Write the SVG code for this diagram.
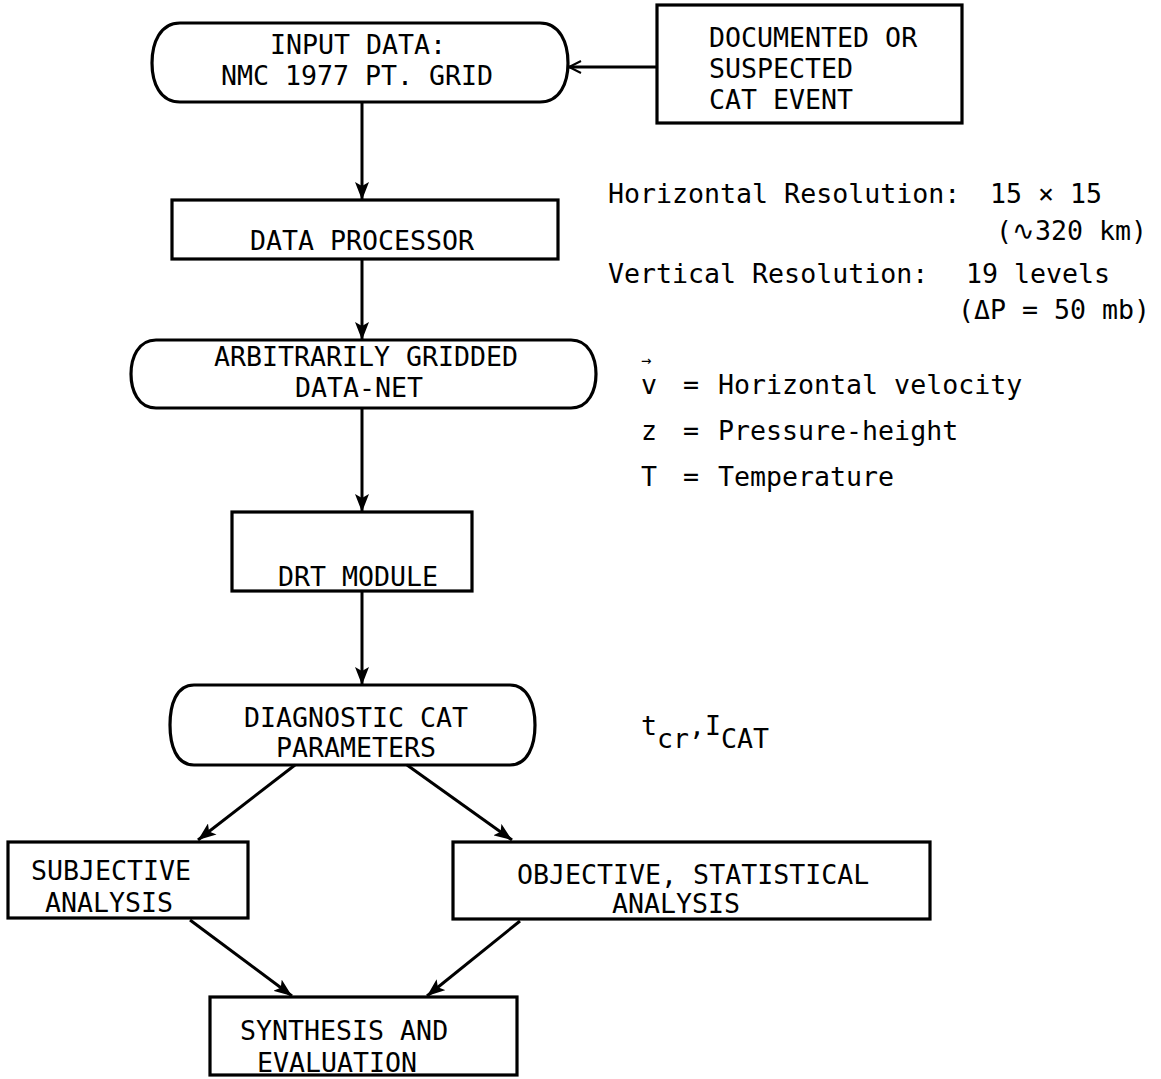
<svg xmlns="http://www.w3.org/2000/svg" width="1161" height="1079" viewBox="0 0 1161 1079">
<style>
  .box { fill: none; stroke: #000; stroke-width: 3.2; }
  .t { font-family: "DejaVu Sans Mono", "Liberation Mono", monospace; font-size: 26.6px; fill: #000; }
  .c { text-anchor: middle; }
  .ln { fill: none; stroke: #000; stroke-width: 3; }
</style>
<defs>
  <marker id="ah" markerUnits="userSpaceOnUse" markerWidth="20" markerHeight="14" refX="18" refY="7" orient="auto">
    <path d="M0,0 L18,7 L0,14 L4,7 Z" fill="#000"/>
  </marker>
  <marker id="oh" markerUnits="userSpaceOnUse" markerWidth="16" markerHeight="14" refX="13" refY="7" orient="auto">
    <path d="M1,1 L13,7 L1,13" fill="none" stroke="#000" stroke-width="2"/>
  </marker>
</defs>
<rect width="1161" height="1079" fill="#fff"/>

<g id="connectors">
  <line class="ln" x1="362" y1="103" x2="362" y2="200" marker-end="url(#ah)"/>
  <line class="ln" x1="362" y1="259" x2="362" y2="340" marker-end="url(#ah)"/>
  <line class="ln" x1="362" y1="408" x2="362" y2="512" marker-end="url(#ah)"/>
  <line class="ln" x1="362" y1="591" x2="362" y2="685" marker-end="url(#ah)"/>
  <line class="ln" x1="295" y1="765" x2="198" y2="840" marker-end="url(#ah)"/>
  <line class="ln" x1="407" y1="765" x2="512" y2="840" marker-end="url(#ah)"/>
  <line class="ln" x1="190" y1="920" x2="292" y2="996" marker-end="url(#ah)"/>
  <line class="ln" x1="520" y1="921" x2="427" y2="996" marker-end="url(#ah)"/>
  <line class="ln" x1="657" y1="67" x2="569" y2="67" marker-end="url(#oh)"/>
</g>

<g id="n_input">
  <path class="box" d="M180,23 H540 C560,23 568,43 568,63 C568,83 560,102 540,102 H180 C160,102 152,83 152,63 C152,43 160,23 180,23 Z"/>
  <text class="t c" x="358" y="54">INPUT DATA:</text>
  <text class="t c" x="357" y="85">NMC 1977 PT. GRID</text>
</g>

<g id="n_documented">
  <rect class="box" x="657" y="5" width="305" height="118"/>
  <text class="t" x="709" y="47">DOCUMENTED OR</text>
  <text class="t" x="709" y="78">SUSPECTED</text>
  <text class="t" x="709" y="109">CAT EVENT</text>
</g>

<g id="n_processor">
  <rect class="box" x="172" y="200" width="386" height="59"/>
  <text class="t c" x="362" y="250">DATA PROCESSOR</text>
</g>

<g id="n_gridded">
  <path class="box" d="M156,340 H571 C589,340 596,358 596,374 C596,390 589,408 571,408 H156 C138,408 131,390 131,374 C131,358 138,340 156,340 Z"/>
  <text class="t c" x="366" y="366">ARBITRARILY GRIDDED</text>
  <text class="t c" x="359" y="397">DATA-NET</text>
</g>

<g id="n_drt">
  <rect class="box" x="232" y="512" width="240" height="79"/>
  <text class="t" x="278" y="586">DRT MODULE</text>
</g>

<g id="n_diagnostic">
  <path class="box" d="M194,685 H510 C528,685 535,705 535,725 C535,745 528,765 510,765 H194 C176,765 170,745 170,725 C170,705 176,685 194,685 Z"/>
  <text class="t c" x="356" y="727">DIAGNOSTIC CAT</text>
  <text class="t c" x="356" y="757">PARAMETERS</text>
</g>

<g id="n_subjective">
  <rect class="box" x="8" y="842" width="240" height="76"/>
  <text class="t" x="31" y="880">SUBJECTIVE</text>
  <text class="t" x="45" y="912">ANALYSIS</text>
</g>

<g id="n_objective">
  <rect class="box" x="453" y="842" width="477" height="77"/>
  <text class="t" x="517" y="884">OBJECTIVE, STATISTICAL</text>
  <text class="t" x="612" y="913">ANALYSIS</text>
</g>

<g id="n_synthesis">
  <rect class="box" x="210" y="997" width="307" height="78"/>
  <text class="t" x="240" y="1040">SYNTHESIS AND</text>
  <text class="t" x="257" y="1072">EVALUATION</text>
</g>

<g id="notes">
  <text class="t" x="608" y="203">Horizontal Resolution:</text>
  <text class="t" x="990" y="203">15 × 15</text>
  <text class="t" x="996" y="240">(∿320 km)</text>
  <text class="t" x="608" y="283">Vertical Resolution:</text>
  <text class="t" x="966" y="283">19 levels</text>
  <text class="t" x="958" y="319">(ΔP = 50 mb)</text>

  <text class="t" x="641" y="394">v</text>
  <text class="t" x="641" y="366" style="font-size:17px">→</text>
  <text class="t" x="683" y="394">=</text>
  <text class="t" x="718" y="394">Horizontal velocity</text>
  <text class="t" x="641" y="440">z</text>
  <text class="t" x="683" y="440">=</text>
  <text class="t" x="718" y="440">Pressure-height</text>
  <text class="t" x="641" y="486">T</text>
  <text class="t" x="683" y="486">=</text>
  <text class="t" x="718" y="486">Temperature</text>

  <text class="t" x="641" y="735">t<tspan dy="13">cr</tspan><tspan dy="-13">,</tspan><tspan>I</tspan><tspan dy="13">CAT</tspan></text>
</g>
</svg>
